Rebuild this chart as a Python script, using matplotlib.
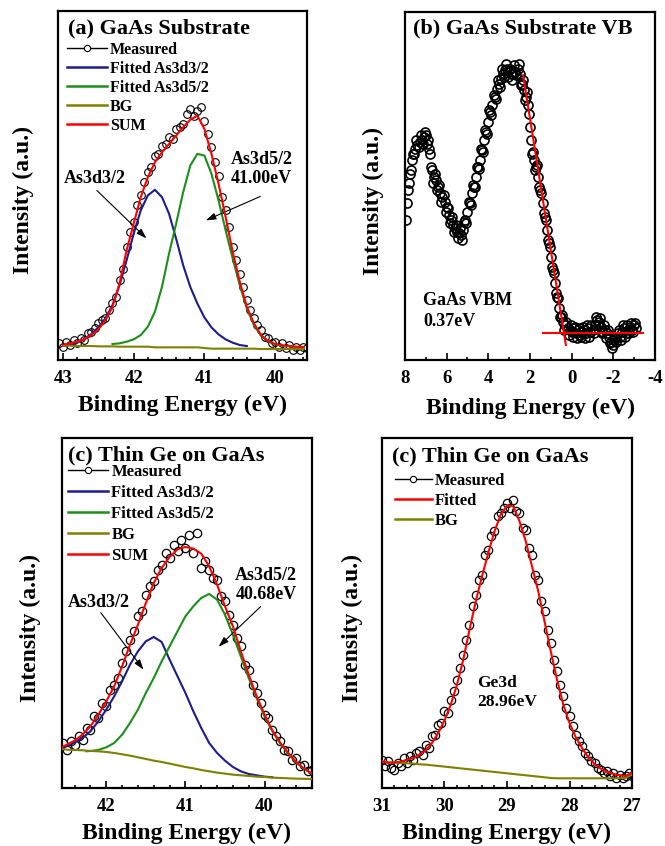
import numpy as np
import matplotlib
matplotlib.use("Agg")
import matplotlib.pyplot as plt
from matplotlib.lines import Line2D
from matplotlib.ticker import MultipleLocator

plt.rcParams['font.family'] = ['Liberation Serif', 'DejaVu Serif']
plt.rcParams['font.weight'] = 'bold'
plt.rcParams['axes.unicode_minus'] = False

BLUE = '#1c1c8e'
GREEN = '#1a8f1a'
OLIVE = '#808000'
RED = '#ff0000'

# ---------------- (a) GaAs substrate, As3d ----------------
a_meas_e = [43.05, 43.00, 42.95, 42.90, 42.85, 42.80, 42.75, 42.70, 42.65, 42.60,
            42.55, 42.50, 42.45, 42.40, 42.35, 42.30, 42.25, 42.20, 42.15, 42.10,
            42.05, 42.00, 41.95, 41.90, 41.85, 41.80, 41.75, 41.70, 41.65, 41.60,
            41.55, 41.50, 41.45, 41.40, 41.35, 41.30, 41.25, 41.20, 41.15, 41.10,
            41.05, 41.00, 40.95, 40.90, 40.85, 40.80, 40.75, 40.70, 40.65, 40.60,
            40.55, 40.50, 40.45, 40.40, 40.35, 40.30, 40.25, 40.20, 40.15, 40.10,
            40.05, 40.00, 39.95, 39.90, 39.85, 39.80, 39.75, 39.70, 39.65, 39.60, 39.55]
a_meas_i = [5.0, 4.0, 5.5, 4.5, 6.0, 5.0, 6.5, 6.0, 8.0, 8.5,
            9.5, 11.0, 12.0, 12.5, 15.0, 17.0, 19.0, 24.0, 27.5, 34.0,
            38.5, 41.5, 46.5, 49.5, 53.5, 56.5, 58.0, 61.5, 62.0, 64.5,
            65.0, 67.0, 66.5, 69.5, 70.0, 71.0, 74.0, 75.5, 73.5, 75.0,
            76.0, 72.0, 68.0, 64.0, 59.5, 55.5, 49.0, 45.0, 40.0, 34.0,
            30.0, 26.0, 22.0, 18.0, 15.0, 12.5, 10.5, 9.0, 7.0, 6.5,
            5.0, 5.5, 4.0, 5.0, 3.5, 4.5, 3.0, 4.0, 3.0, 4.0, 3.5]

a_fit_e = [43.0, 42.9, 42.8, 42.7, 42.6, 42.5, 42.4, 42.3, 42.2, 42.1,
           42.0, 41.9, 41.8, 41.7, 41.6, 41.5, 41.4, 41.3, 41.2, 41.1,
           41.0, 40.9, 40.8, 40.7, 40.6, 40.5, 40.4, 40.3, 40.2, 40.1,
           40.0, 39.9, 39.8, 39.7, 39.6]
a_sum = [4.6, 5.0, 5.5, 6.2, 7.5, 9.2, 12.0, 16.0, 23.0, 33.0,
         41.0, 49.0, 55.0, 59.5, 62.5, 65.0, 67.5, 70.0, 72.3, 73.5,
         69.5, 62.0, 53.0, 43.0, 32.5, 23.5, 16.0, 11.0, 7.5, 5.7,
         4.8, 4.4, 4.2, 4.0, 3.9]
a_bg = [4.3, 4.3, 4.2, 4.2, 4.2, 4.1, 4.1, 4.1, 4.0, 4.0,
        4.0, 4.0, 4.0, 3.8, 3.8, 3.8, 3.8, 3.8, 3.8, 3.8,
        3.6, 3.4, 3.4, 3.4, 3.4, 3.4, 3.4, 3.4, 3.3, 3.3,
        3.3, 3.3, 3.3, 3.3, 3.3]
a_d32_e = [43.0, 42.9, 42.8, 42.7, 42.6, 42.5, 42.4, 42.3, 42.2, 42.1,
           42.0, 41.9, 41.8, 41.7, 41.6, 41.5, 41.4, 41.3, 41.2, 41.1,
           41.0, 40.9, 40.8, 40.7, 40.6, 40.5, 40.4]
a_d32 = [4.3, 4.6, 5.2, 6.3, 7.8, 9.8, 12.5, 16.5, 22.5, 30.0,
         38.0, 45.0, 49.5, 51.2, 49.0, 44.0, 36.5, 28.5, 22.0, 17.0,
         12.8, 9.8, 7.7, 6.2, 5.2, 4.5, 4.2]
a_d52_e = [42.3, 42.2, 42.1, 42.0, 41.9, 41.8, 41.7, 41.6, 41.5, 41.4,
           41.3, 41.2, 41.1, 41.0, 40.9, 40.8, 40.7, 40.6, 40.5, 40.4,
           40.3, 40.2, 40.1, 40.0, 39.9, 39.8, 39.7, 39.6]
a_d52 = [4.8, 5.0, 5.5, 6.2, 7.5, 10.0, 14.5, 22.0, 32.0, 41.0,
         50.5, 58.5, 62.0, 61.5, 56.0, 48.0, 39.0, 30.5, 22.5, 15.5,
         10.5, 7.3, 5.6, 4.7, 4.3, 4.1, 3.9, 3.8]

# ---------------- (b) GaAs substrate, valence band (two sweeps) ----------------
b_e = [7.9, 7.8, 7.7, 7.6, 7.5, 7.4, 7.3, 7.2, 7.1, 7.0,
       6.9, 6.8, 6.7, 6.6, 6.5, 6.4, 6.3, 6.2, 6.1, 6.0,
       5.9, 5.8, 5.7, 5.6, 5.5, 5.4, 5.3, 5.2, 5.1, 5.0,
       4.9, 4.8, 4.7, 4.6, 4.5, 4.4, 4.3, 4.2, 4.1, 4.0,
       3.9, 3.8, 3.7, 3.6, 3.5, 3.4, 3.3, 3.2, 3.1, 3.0,
       2.9, 2.8, 2.7, 2.6, 2.5, 2.4, 2.3, 2.2, 2.1, 2.0,
       1.9, 1.8, 1.7, 1.6, 1.5, 1.4, 1.3, 1.2, 1.1, 1.0,
       0.9, 0.8, 0.7, 0.6, 0.5, 0.4, 0.3, 0.2, 0.1, 0.0,
       -0.1, -0.2, -0.3, -0.4, -0.5, -0.6, -0.7, -0.8, -0.9, -1.0,
       -1.1, -1.2, -1.3, -1.4, -1.5, -1.6, -1.7, -1.8, -1.9, -2.0,
       -2.1, -2.2, -2.3, -2.4, -2.5, -2.6, -2.7, -2.8, -2.9, -3.0, -3.1]
b_i = [47.0, 53.0, 57.0, 62.0, 63.5, 64.5, 65.5, 66.0, 67.0, 67.5,
       66.0, 62.0, 57.0, 55.0, 54.0, 52.0, 50.0, 49.0, 47.5, 46.0,
       43.5, 42.0, 40.5, 39.5, 38.5, 38.0, 37.5, 39.0, 42.0, 44.5,
       47.0, 50.0, 52.0, 55.0, 58.0, 60.0, 63.0, 66.0, 68.5, 71.5,
       74.5, 76.5, 79.0, 81.5, 83.0, 84.5, 86.0, 87.0, 87.5, 87.0,
       86.0, 86.0, 86.5, 87.5, 86.0, 83.0, 81.0, 79.0, 76.5, 70.0,
       62.0, 60.0, 58.0, 55.0, 51.0, 47.0, 43.0, 39.0, 35.0, 31.0,
       27.0, 23.0, 19.0, 15.5, 13.0, 11.5, 10.5, 9.5, 9.0, 8.5,
       9.5, 8.0, 9.0, 7.5, 8.5, 9.0, 8.0, 9.5, 8.5, 9.0,
       10.5, 12.0, 11.5, 10.0, 8.5, 9.0, 8.0, 7.0, 5.5, 4.5,
       6.5, 8.0, 7.0, 8.5, 9.5, 8.0, 9.0, 10.0, 9.0, 10.5, 9.5]
b_e2 = [7.95, 7.85, 7.75, 7.65, 7.55, 7.45, 7.35, 7.25, 7.15, 7.05,
        6.95, 6.85, 6.75, 6.65, 6.55, 6.45, 6.35, 6.25, 6.15, 6.05,
        5.95, 5.85, 5.75, 5.65, 5.55, 5.45, 5.35, 5.25, 5.15, 5.05,
        4.95, 4.85, 4.75, 4.65, 4.55, 4.45, 4.35, 4.25, 4.15, 4.05,
        3.95, 3.85, 3.75, 3.65, 3.55, 3.45, 3.35, 3.25, 3.15, 3.05,
        2.95, 2.85, 2.75, 2.65, 2.55, 2.45, 2.35, 2.25, 2.15, 2.05,
        1.95, 1.85, 1.75, 1.65, 1.55, 1.45, 1.35, 1.25, 1.15, 1.05,
        0.95, 0.85, 0.75, 0.65, 0.55, 0.45, 0.35, 0.25, 0.15, 0.05,
        -0.05, -0.15, -0.25, -0.35, -0.45, -0.55, -0.65, -0.75, -0.85, -0.95,
        -1.05, -1.15, -1.25, -1.35, -1.45, -1.55, -1.65, -1.75, -1.85, -1.95,
        -2.05, -2.15, -2.25, -2.35, -2.45, -2.55, -2.65, -2.75, -2.85, -2.95, -3.05]
b_i2 = [42.0, 51.0, 56.0, 60.0, 62.0, 66.0, 64.0, 67.5, 65.0, 68.5,
        65.0, 63.5, 58.0, 53.0, 56.0, 51.0, 52.5, 47.5, 49.5, 44.5,
        45.5, 41.0, 43.0, 38.5, 40.5, 36.5, 39.5, 36.0, 41.5, 41.0,
        47.5, 46.5, 52.5, 52.0, 58.0, 57.5, 63.5, 62.5, 69.0, 68.0,
        75.0, 73.5, 79.5, 78.5, 84.0, 82.0, 87.5, 85.0, 89.0, 85.0,
        87.5, 84.0, 88.5, 85.5, 89.0, 82.5, 84.0, 78.0, 80.5, 74.0,
        66.0, 62.5, 57.0, 58.5, 52.0, 50.0, 44.0, 42.0, 36.0, 34.0,
        28.0, 26.0, 20.0, 18.5, 13.0, 13.5, 9.0, 11.5, 7.5, 10.5,
        7.0, 10.0, 6.5, 9.5, 7.0, 10.0, 6.5, 10.5, 7.0, 10.5,
        8.0, 13.0, 10.5, 12.5, 8.0, 10.5, 6.5, 9.0, 5.0, 3.5,
        6.0, 5.5, 9.0, 6.0, 10.5, 7.0, 10.5, 8.0, 11.0, 8.5, 11.0]
b_edge_e = [2.33, 0.28]
b_edge_i = [85.5, 4.5]
b_base_e = [1.37, -3.41]
b_base_i = [8.2, 8.2]

# ---------------- (c) thin Ge on GaAs, As3d ----------------
c_meas_e = [42.55, 42.50, 42.45, 42.40, 42.35, 42.30, 42.25, 42.20, 42.15, 42.10,
            42.05, 42.00, 41.95, 41.90, 41.85, 41.80, 41.75, 41.70, 41.65, 41.60,
            41.55, 41.50, 41.45, 41.40, 41.35, 41.30, 41.25, 41.20, 41.15, 41.10,
            41.05, 41.00, 40.95, 40.90, 40.85, 40.80, 40.75, 40.70, 40.65, 40.60,
            40.55, 40.50, 40.45, 40.40, 40.35, 40.30, 40.25, 40.20, 40.15, 40.10,
            40.05, 40.00, 39.95, 39.90, 39.85, 39.80, 39.75, 39.70, 39.65, 39.60,
            39.55, 39.50, 39.45, 39.40]
c_meas_i = [13.5, 11.5, 14.0, 13.0, 15.5, 14.5, 18.0, 17.5, 21.5, 21.0,
            25.5, 24.5, 29.5, 31.0, 33.0, 37.5, 41.0, 44.5, 47.0, 51.5,
            53.0, 58.0, 60.5, 62.0, 65.5, 67.0, 70.5, 69.0, 73.0, 71.0,
            74.5, 72.0, 76.0, 70.5, 76.5, 66.0, 68.0, 65.5, 63.0, 62.5,
            57.5, 56.0, 52.0, 49.0, 45.0, 42.5, 37.0, 35.5, 31.0, 28.5,
            25.5, 22.0, 21.0, 17.5, 15.5, 14.0, 11.5, 11.0, 8.5, 9.0,
            6.5, 7.0, 5.0, 5.5]

c_fit_e = [42.55, 42.5, 42.4, 42.3, 42.2, 42.1, 42.0, 41.9, 41.8, 41.7,
           41.6, 41.5, 41.4, 41.3, 41.2, 41.1, 41.0, 40.9, 40.8, 40.7,
           40.6, 40.5, 40.4, 40.3, 40.2, 40.1, 40.0, 39.9, 39.8, 39.7,
           39.6, 39.5, 39.4]
c_sum = [12.4, 13.0, 14.2, 16.0, 18.5, 22.0, 26.0, 30.5, 36.5, 43.0,
         49.0, 55.5, 61.5, 66.0, 69.3, 71.6, 72.3, 71.8, 70.3, 66.5,
         61.0, 54.5, 48.5, 41.0, 34.0, 27.5, 22.0, 17.2, 13.5, 10.5,
         7.8, 5.8, 4.3]
c_bg = [11.6, 11.5, 11.4, 11.3, 11.1, 11.0, 10.8, 10.5, 10.1, 9.7,
        9.2, 8.7, 8.2, 7.8, 7.3, 6.8, 6.3, 5.9, 5.4, 5.0,
        4.6, 4.3, 4.0, 3.8, 3.6, 3.4, 3.3, 3.1, 3.0, 2.9,
        2.8, 2.75, 2.7]
c_d32_e = [42.55, 42.5, 42.4, 42.3, 42.2, 42.1, 42.0, 41.9, 41.8, 41.7,
           41.6, 41.5, 41.4, 41.3, 41.2, 41.1, 41.0, 40.9, 40.8, 40.7,
           40.6, 40.5, 40.4, 40.3, 40.2, 40.1, 40.0, 39.9]
c_d32 = [12.2, 12.6, 13.6, 15.0, 17.0, 20.0, 23.5, 27.5, 32.0, 37.0,
         41.0, 44.0, 45.3, 43.8, 38.5, 33.5, 28.5, 23.0, 18.0, 13.5,
         10.5, 8.2, 6.3, 5.0, 4.2, 3.8, 3.4, 3.2]
c_d52_e = [42.25, 42.2, 42.1, 42.0, 41.9, 41.8, 41.7, 41.6, 41.5, 41.4,
           41.3, 41.2, 41.1, 41.0, 40.9, 40.8, 40.7, 40.6, 40.5, 40.4,
           40.3, 40.2, 40.1, 40.0, 39.9, 39.8, 39.7, 39.6, 39.5, 39.4]
c_d52 = [11.0, 11.1, 11.4, 12.2, 13.5, 16.0, 19.5, 23.5, 28.5, 33.0,
         38.0, 42.5, 47.0, 51.5, 54.5, 57.0, 58.2, 56.5, 52.0, 46.0,
         39.5, 33.0, 27.0, 21.5, 17.0, 13.3, 10.3, 7.7, 5.7, 4.3]

# ---------------- (d) thin Ge on GaAs, Ge3d ----------------
d_meas_e = [31.00, 30.95, 30.90, 30.85, 30.80, 30.75, 30.70, 30.65, 30.60, 30.55,
            30.50, 30.45, 30.40, 30.35, 30.30, 30.25, 30.20, 30.15, 30.10, 30.05,
            30.00, 29.95, 29.90, 29.85, 29.80, 29.75, 29.70, 29.65, 29.60, 29.55,
            29.50, 29.45, 29.40, 29.35, 29.30, 29.25, 29.20, 29.15, 29.10, 29.05,
            29.00, 28.95, 28.90, 28.85, 28.80, 28.75, 28.70, 28.65, 28.60, 28.55,
            28.50, 28.45, 28.40, 28.35, 28.30, 28.25, 28.20, 28.15, 28.10, 28.05,
            28.00, 27.95, 27.90, 27.85, 27.80, 27.75, 27.70, 27.65, 27.60, 27.55,
            27.50, 27.45, 27.40, 27.35, 27.30, 27.25, 27.20, 27.15, 27.10, 27.05, 27.00]
d_meas_i = [8.5, 6.5, 8.0, 6.0, 5.5, 7.5, 6.5, 9.0, 7.5, 9.5,
            8.5, 10.5, 11.0, 10.0, 13.0, 12.0, 15.5, 16.0, 19.0, 19.5,
            23.0, 22.5, 26.5, 29.0, 32.5, 36.0, 40.0, 44.5, 49.0, 54.5,
            58.0, 62.5, 64.0, 70.0, 71.5, 75.5, 77.0, 81.5, 82.5, 84.0,
            85.5, 84.0, 86.5, 83.0, 82.5, 78.0, 77.5, 72.0, 70.0, 64.0,
            62.5, 56.0, 53.0, 47.5, 43.5, 38.5, 35.0, 31.0, 27.5, 24.0,
            21.5, 18.5, 16.0, 14.0, 12.5, 10.5, 9.5, 8.0, 7.5, 6.0,
            5.5, 4.5, 5.0, 3.5, 4.5, 3.0, 4.0, 3.0, 3.5, 4.5, 3.5]

d_fit_e = [31.0, 30.9, 30.8, 30.7, 30.6, 30.5, 30.4, 30.3, 30.2, 30.1,
           30.0, 29.9, 29.8, 29.7, 29.6, 29.5, 29.4, 29.3, 29.2, 29.1,
           29.0, 28.9, 28.8, 28.7, 28.6, 28.5, 28.4, 28.3, 28.2, 28.1,
           28.0, 27.9, 27.8, 27.7, 27.6, 27.5, 27.4, 27.3, 27.2, 27.1, 27.0]
d_fit = [8.0, 7.6, 7.6, 7.9, 8.4, 9.0, 10.0, 11.3, 13.5, 16.5,
         20.3, 25.0, 31.0, 38.5, 47.5, 56.0, 63.5, 70.5, 77.0, 82.0,
         84.7, 84.5, 80.0, 74.0, 66.5, 59.0, 50.0, 41.0, 32.5, 25.0,
         19.5, 15.2, 12.0, 9.2, 7.2, 5.8, 4.8, 4.2, 3.8, 3.6, 4.5]
d_bg = [8.0, 7.7, 7.6, 7.5, 7.4, 7.3, 7.1, 7.0, 6.8, 6.6,
        6.4, 6.2, 6.0, 5.8, 5.6, 5.4, 5.2, 5.0, 4.8, 4.6,
        4.4, 4.2, 4.0, 3.8, 3.6, 3.4, 3.2, 3.0, 2.9, 2.9,
        2.9, 2.9, 2.9, 2.9, 2.9, 2.9, 2.9, 2.9, 2.9, 3.0, 4.0]

fig = plt.figure(figsize=(6.65, 8.46), dpi=100)
ax_a = fig.add_axes([0.0872, 0.5745, 0.3744, 0.4125])
ax_b = fig.add_axes([0.6090, 0.5745, 0.3760, 0.4113])
ax_c = fig.add_axes([0.0932, 0.0686, 0.3760, 0.4137])
ax_d = fig.add_axes([0.5744, 0.0686, 0.3760, 0.4137])


def style_axes(ax, xlim, major, minor, ylab_x, xlab_y):
    ax.set_xlim(*xlim)
    ax.set_ylim(0, 105)
    ax.xaxis.set_major_locator(MultipleLocator(major))
    ax.xaxis.set_minor_locator(MultipleLocator(minor))
    ax.set_yticks([])
    ax.tick_params(axis='x', which='both', direction='in', top=False,
                   labelsize=13.5, pad=7, width=1.2)
    ax.tick_params(axis='x', which='major', length=5)
    ax.tick_params(axis='x', which='minor', length=2.5)
    for sp in ax.spines.values():
        sp.set_linewidth(1.6)
    ax.set_xlabel('Binding Energy (eV)', fontsize=17, fontweight='bold')
    ax.set_ylabel('Intensity (a.u.)', fontsize=17, fontweight='bold')
    ax.xaxis.set_label_coords(0.5, xlab_y)
    ax.yaxis.set_label_coords(ylab_x, 0.457)
    ax.xaxis.label.set_va('center')
    ax.yaxis.label.set_va('center')


def measured_handle():
    return Line2D([], [], color='black', lw=1.0, marker='o', ms=4.5,
                  mfc='white', mec='black', mew=0.8)


arrow = dict(arrowstyle='-|>,head_length=0.6,head_width=0.2', color='black', lw=0.8,
             shrinkA=0, shrinkB=0)

# (a)
ax = ax_a
ax.plot(a_meas_e, a_meas_i, ls='none', marker='o', ms=5.5, mfc='none', mec='black',
        mew=0.8, zorder=2)
ax.plot(a_d32_e, a_d32, color=BLUE, lw=1.5, zorder=3)
ax.plot(a_d52_e, a_d52, color=GREEN, lw=1.5, zorder=3)
ax.plot(a_fit_e, a_bg, color=OLIVE, lw=1.5, zorder=3)
ax.plot(a_fit_e, a_sum, color=RED, lw=1.5, zorder=4)
style_axes(ax, (43.07, 39.55), 1, 0.2, -0.137, -0.129)
ax.text(0.04, 0.951, '(a) GaAs Substrate', transform=ax.transAxes, fontsize=16,
        ha='left', va='center')
hs = [measured_handle(), Line2D([], [], color=BLUE, lw=1.8), Line2D([], [], color=GREEN, lw=1.8),
      Line2D([], [], color=OLIVE, lw=1.8), Line2D([], [], color=RED, lw=1.8)]
ax.legend(hs, ['Measured', 'Fitted As3d3/2', 'Fitted As3d5/2', 'BG', 'SUM'],
          loc='upper left', bbox_to_anchor=(0.036, 0.912), borderpad=0, borderaxespad=0,
          frameon=False, fontsize=11.5, handlelength=2.5, handletextpad=0.2,
          labelspacing=0.19)
ax.text(42.55, 54.6, 'As3d3/2', fontsize=13, ha='center', va='center')
ax.annotate('', xy=(41.82, 36.6), xytext=(42.52, 51.0), arrowprops=arrow)
ax.annotate('', xy=(40.98, 42.0), xytext=(40.21, 49.2), arrowprops=arrow)
ax.text(40.63, 57.6, 'As3d5/2\n41.00eV', fontsize=13, ha='left', va='center',
        linespacing=1.15)

# (b)
ax = ax_b
ax.plot(b_e, b_i, ls='none', marker='o', ms=6.5, mfc='none', mec='black', mew=1.2, zorder=2)
ax.plot(b_e2, b_i2, ls='none', marker='o', ms=6.5, mfc='none', mec='black', mew=1.2, zorder=2)
ax.plot(b_edge_e, b_edge_i, color=RED, lw=1.5, zorder=4)
ax.plot(b_base_e, b_base_i, color=RED, lw=1.5, zorder=4)
style_axes(ax, (8, -4), 2, 1, -0.128, -0.138)
ax.set_ylim(0, 104.5)
ax.text(0.032, 0.954, '(b) GaAs Substrate VB', transform=ax.transAxes, fontsize=16,
        ha='left', va='center')
ax.text(7.13, 14.7, 'GaAs VBM\n0.37eV', fontsize=13, ha='left', va='center',
        linespacing=1.25)

# (c)
ax = ax_c
ax.plot(c_meas_e, c_meas_i, ls='none', marker='o', ms=6, mfc='none', mec='black',
        mew=0.9, zorder=2)
ax.plot(c_d32_e, c_d32, color=BLUE, lw=1.5, zorder=3)
ax.plot(c_d52_e, c_d52, color=GREEN, lw=1.5, zorder=3)
ax.plot(c_fit_e, c_bg, color=OLIVE, lw=1.5, zorder=3)
ax.plot(c_fit_e, c_sum, color=RED, lw=1.5, zorder=4)
style_axes(ax, (42.56, 39.40), 1, 0.2, -0.128, -0.131)
ax.text(0.024, 0.951, '(c) Thin Ge on GaAs', transform=ax.transAxes, fontsize=16,
        ha='left', va='center')
ax.legend(hs, ['Measured', 'Fitted As3d3/2', 'Fitted As3d5/2', 'BG', 'SUM'],
          loc='upper left', bbox_to_anchor=(0.024, 0.927), borderpad=0, borderaxespad=0,
          frameon=False, fontsize=12, handlelength=2.4, handletextpad=0.2,
          labelspacing=0.3)
ax.text(42.09, 55.5, 'As3d3/2', fontsize=13, ha='center', va='center')
ax.annotate('', xy=(41.53, 35.5), xytext=(42.07, 52.6), arrowprops=arrow)
ax.annotate('', xy=(40.58, 42.4), xytext=(40.05, 54.4), arrowprops=arrow)
ax.text(40.37, 61.0, 'As3d5/2\n40.68eV', fontsize=13, ha='left', va='center',
        linespacing=1.15)

# (d)
ax = ax_d
ax.plot(d_meas_e, d_meas_i, ls='none', marker='o', ms=6, mfc='none', mec='black',
        mew=0.9, zorder=2)
ax.plot(d_fit_e, d_bg, color=OLIVE, lw=1.5, zorder=3)
ax.plot(d_fit_e, d_fit, color=RED, lw=1.5, zorder=4)
style_axes(ax, (31, 27), 1, 0.2, -0.12, -0.129)
ax.text(0.04, 0.946, '(c) Thin Ge on GaAs', transform=ax.transAxes, fontsize=16,
        ha='left', va='center')
hs_d = [measured_handle(), Line2D([], [], color=RED, lw=1.8), Line2D([], [], color=OLIVE, lw=1.8)]
ax.legend(hs_d, ['Measured', 'Fitted', 'BG'],
          loc='upper left', bbox_to_anchor=(0.052, 0.899), borderpad=0, borderaxespad=0,
          frameon=False, fontsize=12, handlelength=2.2, handletextpad=0.2,
          labelspacing=0.24)
ax.text(29.47, 28.6, 'Ge3d\n28.96eV', fontsize=12.5, ha='left', va='center',
        linespacing=1.25)

fig.savefig('out.png', dpi=100)
